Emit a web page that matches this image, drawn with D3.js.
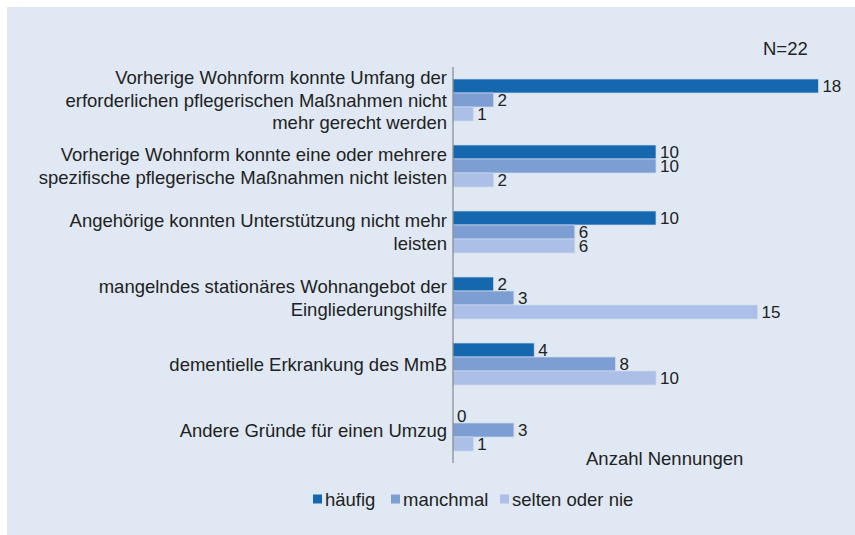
<!DOCTYPE html>
<html>
<head>
<meta charset="utf-8">
<script src="https://cdn.jsdelivr.net/npm/d3@7"></script>
<style>
  body { margin: 0; background: #fff; }
  text { font-family: "Liberation Sans", Arial, sans-serif; fill: #222; }
</style>
</head>
<body>
<svg id="chart"></svg>
<script>
// categories, each split into its printed lines
const categories = [
  ["Vorherige Wohnform konnte Umfang der", "erforderlichen pflegerischen Maßnahmen nicht", "mehr gerecht werden"],
  ["Vorherige Wohnform konnte eine oder mehrere", "spezifische pflegerische Maßnahmen nicht leisten"],
  ["Angehörige konnten Unterstützung nicht mehr", "leisten"],
  ["mangelndes stationäres Wohnangebot der", "Eingliederungshilfe"],
  ["dementielle Erkrankung des MmB"],
  ["Andere Gründe für einen Umzug"]
];
const seriesNames = ["häufig", "manchmal", "selten oder nie"];
const haeufig = [18, 10, 10, 2, 4, 0];
const manchmal = [2, 10, 6, 3, 8, 3];
const selten = [1, 2, 6, 15, 10, 1];
const colors = ["#1668ae", "#7d9ed3", "#abbfe7"];

const W = 855, H = 535;
const svg = d3.select("#chart").attr("width", W).attr("height", H);

// light blue panel
svg.append("rect")
  .attr("x", 7).attr("y", 7)
  .attr("width", W - 7).attr("height", H - 7)
  .attr("fill", "#dfe8f3");

const margin = { top: 67, left: 453 };
const plotH = 396;

const y = d3.scaleBand()
  .domain(d3.range(categories.length))
  .range([margin.top, margin.top + plotH]);

const ySub = d3.scaleBand()
  .domain(seriesNames)
  .range([12, 54]);

const x = d3.scaleLinear()
  .domain([0, 20])
  .range([margin.left, margin.left + 406]);

const series = [haeufig, manchmal, selten];
const fontSize = 18.5;   // labels, legend, notes
const valueSize = 17;    // numbers at the bar ends

const groups = svg.append("g").selectAll("g")
  .data(categories)
  .join("g")
  .attr("transform", (d, i) => `translate(0,${y(i)})`);

seriesNames.forEach((name, s) => {
  groups.append("rect")
    .attr("x", x(0))
    .attr("y", ySub(name))
    .attr("width", (d, i) => x(series[s][i]) - x(0))
    .attr("height", ySub.bandwidth())
    .attr("fill", colors[s])
    .attr("stroke", "#cddbef")
    .attr("stroke-width", 0.7);

  groups.append("text")
    .attr("x", (d, i) => x(series[s][i]) + 4)
    .attr("y", ySub(name) + ySub.bandwidth() / 2)
    .attr("dy", "0.36em")
    .style("font-size", valueSize + "px")
    .text((d, i) => series[s][i]);
});

// category labels, right aligned against the axis
groups.each(function(lines) {
  const g = d3.select(this);
  const lh = 22.5;
  const c = y.bandwidth() / 2;
  lines.forEach((ln, k) => {
    g.append("text")
      .attr("x", margin.left - 6)
      .attr("y", c + (k - (lines.length - 1) / 2) * lh)
      .attr("dy", "0.36em")
      .attr("text-anchor", "end")
      .style("font-size", fontSize + "px")
      .text(ln);
  });
});

// axis line
svg.append("line")
  .attr("x1", x(0)).attr("x2", x(0))
  .attr("y1", margin.top).attr("y2", margin.top + plotH)
  .attr("stroke", "#777").attr("stroke-width", 1);

svg.append("text")
  .attr("x", 763).attr("y", 48).attr("dy", "0.36em")
  .style("font-size", fontSize + "px")
  .text("N=22");

svg.append("text")
  .attr("x", 586).attr("y", 458).attr("dy", "0.36em")
  .style("font-size", fontSize + "px")
  .text("Anzahl Nennungen");

// legend
const legendX = [313, 391, 500];
const legend = svg.append("g").selectAll("g")
  .data(seriesNames)
  .join("g")
  .attr("transform", (d, i) => `translate(${legendX[i]},499)`);

legend.append("rect")
  .attr("x", 0).attr("y", -4.5)
  .attr("width", 9).attr("height", 9)
  .attr("fill", (d, i) => colors[i]);

legend.append("text")
  .attr("x", 12).attr("dy", "0.36em")
  .style("font-size", fontSize + "px")
  .text(d => d);
</script>
</body>
</html>
